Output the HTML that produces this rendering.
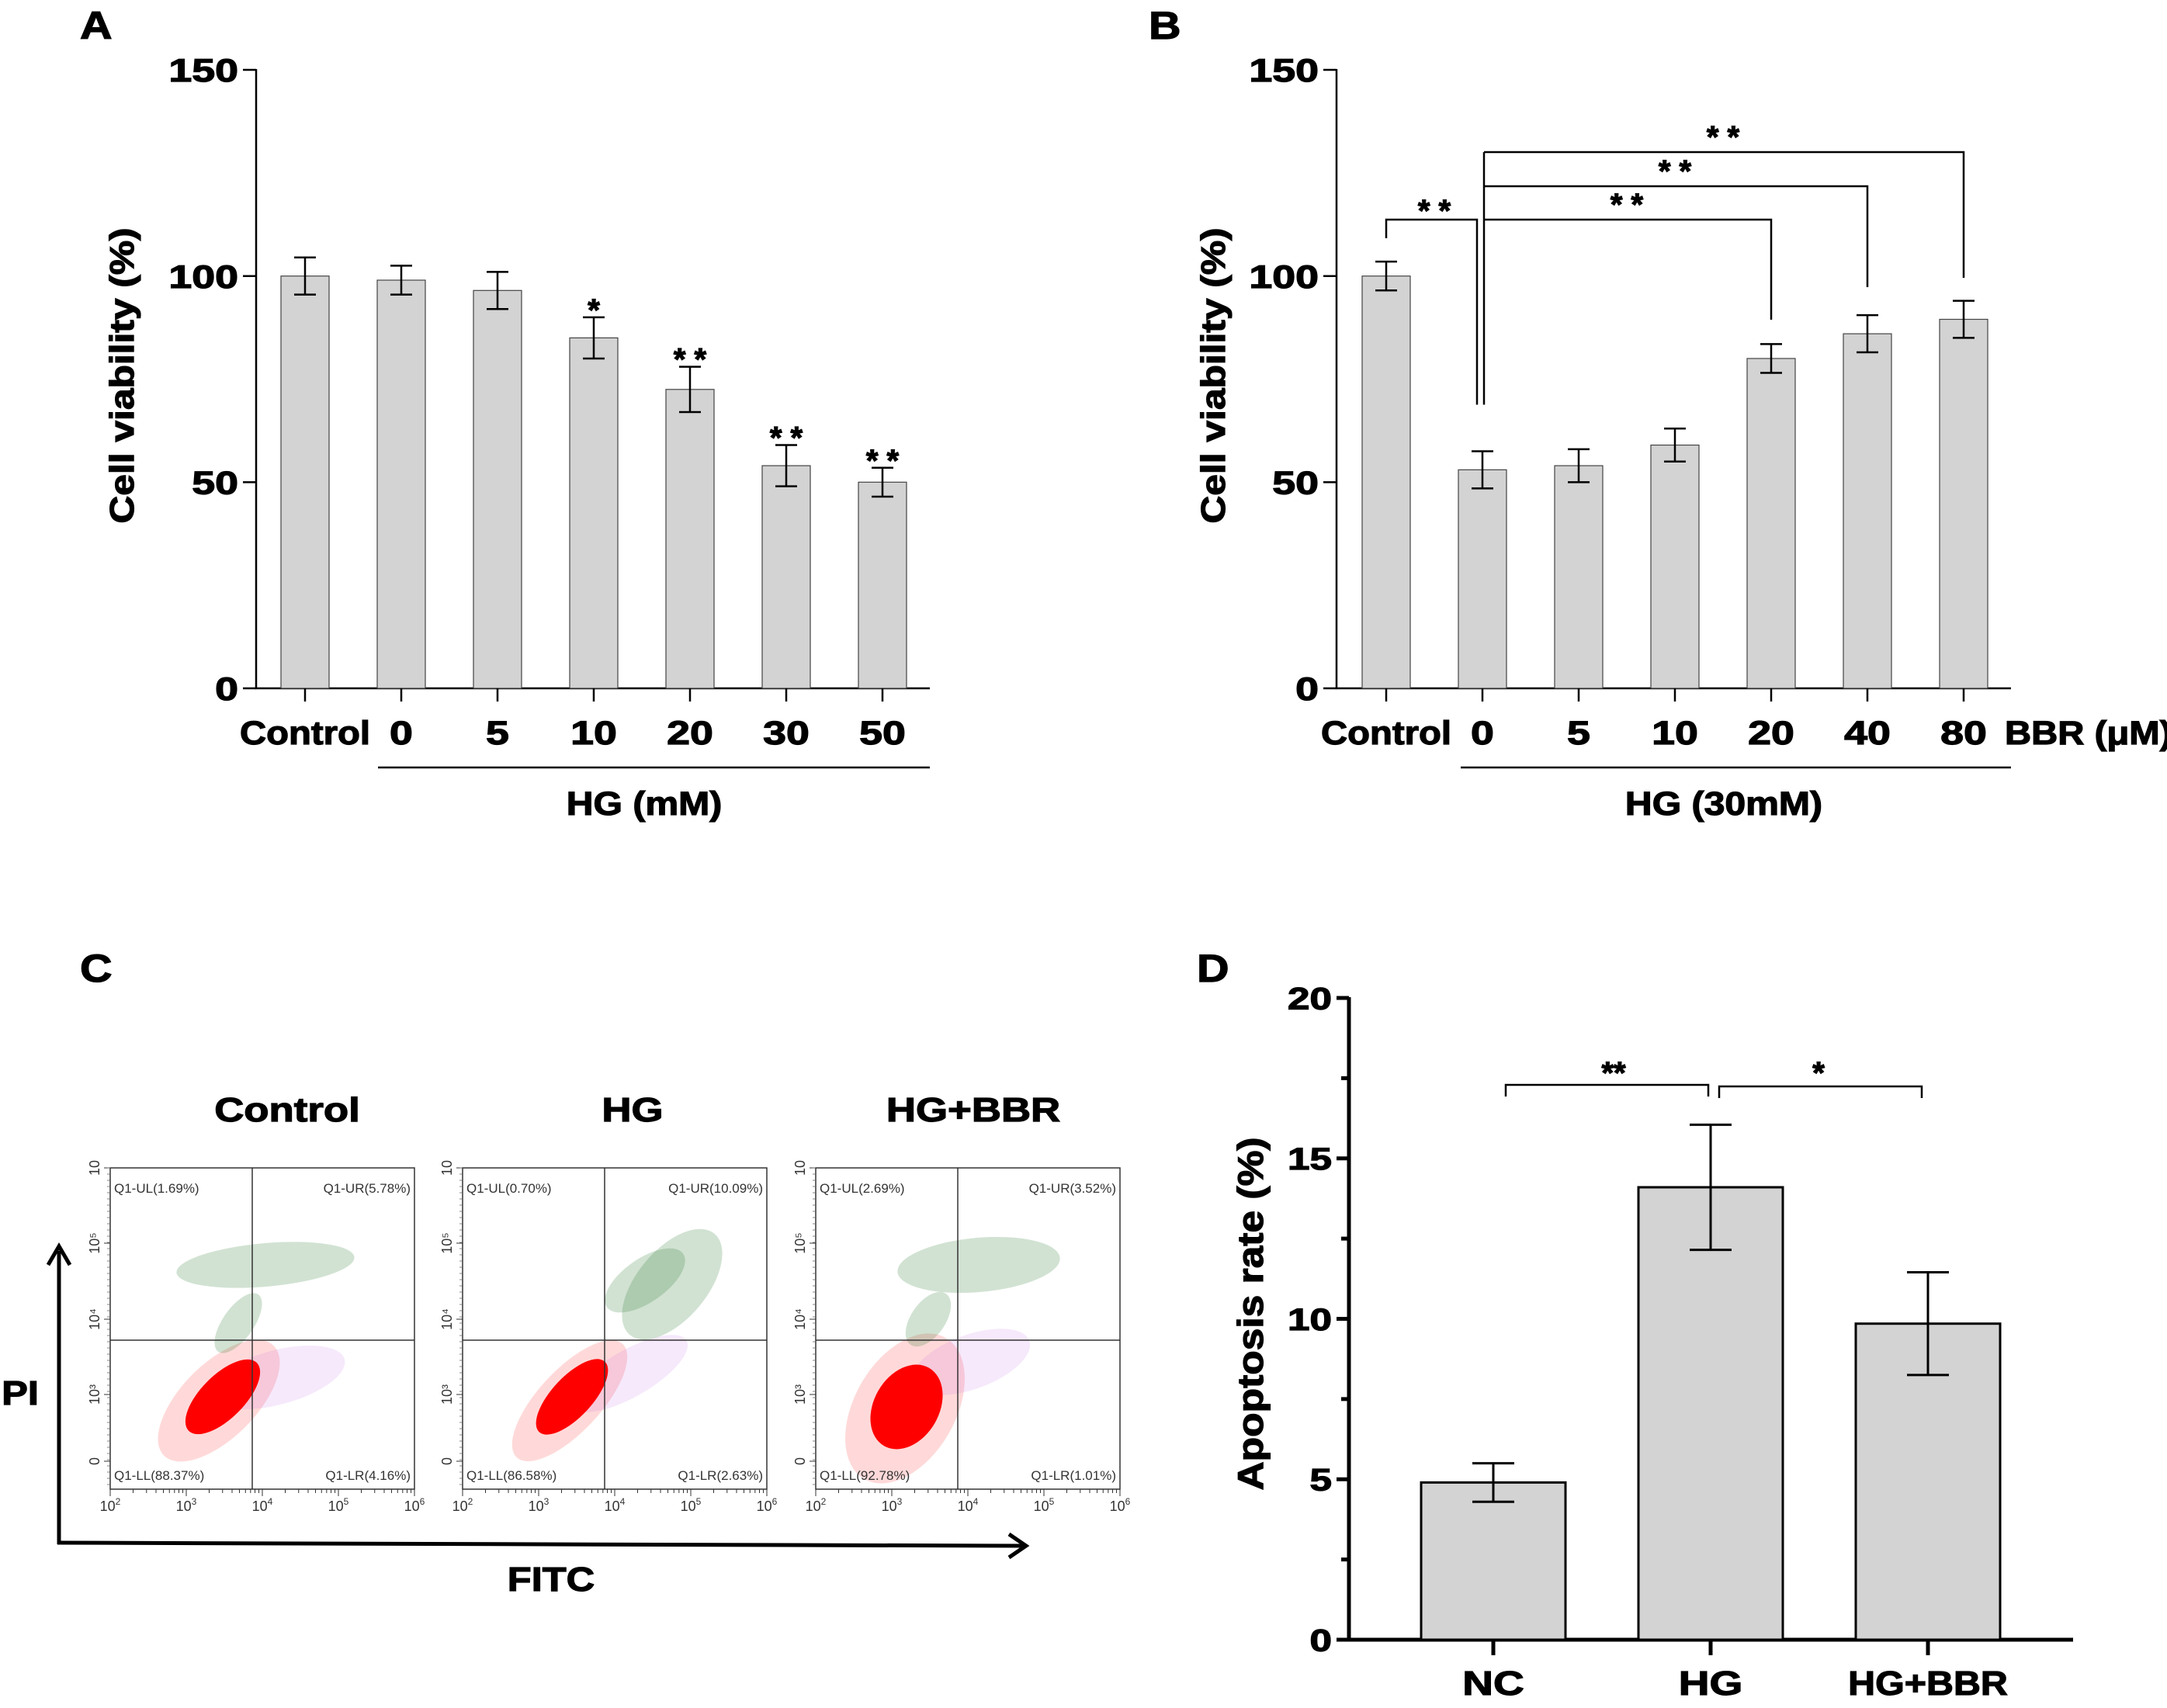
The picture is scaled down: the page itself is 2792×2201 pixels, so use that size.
<!DOCTYPE html>
<html><head><meta charset="utf-8"><style>
html,body{margin:0;padding:0;background:#fff}
svg{display:block}
text{font-family:"Liberation Sans",Arial,sans-serif}
</style></head><body>
<svg id="fig" width="2792" height="2201" viewBox="0 0 2792 2201" xmlns="http://www.w3.org/2000/svg"></svg>
<script>
// ---------- Panel A data ----------
const aCats=['Control','0','5','10','20','30','50'];
const aVals=[100,99,96.5,85,72.5,54,50];
const aErr=[4.5,3.5,4.5,5,5.5,5,3.5];
const aStars=['','','','*','* *','* *','* *'];
const aTicks=[0,50,100,150];
// ---------- Panel B data ----------
const bCats=['Control','0','5','10','20','40','80'];
const bVals=[100,53,54,59,80,86,89.5];
const bErr=[3.5,4.5,4,4,3.5,4.5,4.5];
const bTicks=[0,50,100,150];
// ---------- Panel D data ----------
const dCats=['NC','HG','HG+BBR'];
const dVals=[4.9,14.1,9.85];
const dErr=[0.6,1.95,1.6];
const dTicks=[0,5,10,15,20];
// ---------- Panel C data ----------
const cTitles=['Control','HG','HG+BBR'];
const cUL=['1.69','0.70','2.69'];
const cUR=['5.78','10.09','3.52'];
const cLL=['88.37','86.58','92.78'];
const cLR=['4.16','2.63','1.01'];

const NS='http://www.w3.org/2000/svg';
const svg=document.getElementById('fig');
function el(tag,attrs,parent){const e=document.createElementNS(NS,tag);for(const k in attrs)e.setAttribute(k,attrs[k]);(parent||svg).appendChild(e);return e;}
function line(x1,y1,x2,y2,w,c,name){const e=el('line',{x1,y1,x2,y2,stroke:c||'#000','stroke-width':w||2});

return e;}
function txt(x,y,s,size,anchor,sx,name,weight,fill,rot){
 const g=el('g',{transform:`translate(${x},${y})`+(rot?` rotate(${rot})`:'')+` scale(${sx||1},1)`});
 const a={x:0,y:0,'font-size':size,'text-anchor':anchor||'middle','font-weight':weight||'bold',fill:fill||'#000'};
 if(!weight){a.stroke='#000';a['stroke-width']=1.2;}
 const t=el('text',a,g);
 t.textContent=s;
 
 
 return t;}

// ---------- bar chart helper ----------
function barPanel(o){
 const y=v=>o.y0-v*o.k;
 line(o.ax,y(o.ymax)-1,o.ax,o.y0,o.axw,'#000',o.id+'-y-axis');
 line(o.ax-o.axw/2,o.y0,o.xend,o.y0,o.axw,'#000',o.id+'-x-axis');
 o.ticks.forEach(t=>{line(o.ax-o.tl,y(t),o.ax,y(t),o.axw,'#000',o.id+'-y-tick');
  txt(o.ax-o.tl-6,y(t)+o.tfs*0.36,String(t),o.tfs,'end',1.28,o.id+'-y-tick-label');});
 if(o.minor){for(let i=0;i<o.ticks.length-1;i++){const m=(o.ticks[i]+o.ticks[i+1])/2;line(o.ax-o.tl/2-2,y(m),o.ax,y(m),o.axw,'#000',o.id+'-y-minor-tick');}}
 o.vals.forEach((v,i)=>{
  const cx=o.c0+i*o.sp;
  const r=el('rect',{x:cx-o.bw/2,y:y(v),width:o.bw,height:o.y0-y(v),fill:'#d3d3d3',stroke:o.bs,'stroke-width':o.bsw});
  
  
  const e=o.err[i];
  line(cx,y(v+e),cx,y(v-e),o.ew,'#000',o.id+'-error-bar');
  line(cx-o.cw/2,y(v+e),cx+o.cw/2,y(v+e),o.ew,'#000',o.id+'-error-cap');
  line(cx-o.cw/2,y(v-e),cx+o.cw/2,y(v-e),o.ew,'#000',o.id+'-error-cap');
  line(cx,o.y0,cx,o.y0+o.xtl,o.axw,'#000',o.id+'-x-tick');
  txt(cx,o.lby,o.cats[i],o.lfs,'middle',o.cats[i].length>3?1.1:1.25,o.id+'-x-tick-label');
  if(o.stars&&o.stars[i])txt(cx,y(v+e)+4,o.stars[i],40,'middle',1,o.id+'-significance-star');
 });
}

// Panel A
txt(103,50,'A',50,'start',1.15,'panel-a-label');
barPanel({id:'panel-a',ax:330,y0:887,k:5.313,ymax:150,xend:1198,axw:2.5,tl:17,tfs:42,ticks:aTicks,vals:aVals,err:aErr,cats:aCats,
 c0:393,sp:124,bw:62,bs:'#444',bsw:1.2,ew:2.5,cw:28,xtl:17,lby:959,lfs:43,stars:aStars});
txt(156+16,484,'Cell viability (%)',44,'middle',1.13,'panel-a-y-axis-title',null,'#000',-90);
line(487,989,1198,989,2.5,'#000','panel-a-hg-group-line');
txt(830,1050,'HG (mM)',43,'middle',1.12,'panel-a-group-label');

// Panel B
txt(1480,50,'B',50,'start',1.15,'panel-b-label');
barPanel({id:'panel-b',ax:1722,y0:887,k:5.313,ymax:150,xend:2591,axw:2.5,tl:17,tfs:42,ticks:bTicks,vals:bVals,err:bErr,cats:bCats,
 c0:1786,sp:124,bw:62,bs:'#444',bsw:1.2,ew:2.5,cw:28,xtl:17,lby:959,lfs:43});
txt(1562+16,484,'Cell viability (%)',44,'middle',1.13,'panel-b-y-axis-title',null,'#000',-90);
txt(2583,959,'BBR (\u03bcM)',43,'start',1.1,'panel-b-bbr-unit-label');
line(1882,989,2591,989,2.5,'#000','panel-b-hg-group-line');
txt(2221,1050,'HG (30mM)',43,'middle',1.12,'panel-b-group-label');
(function(){
 const y=v=>887-v*5.313, cx=i=>1786+i*124, topE=i=>y(bVals[i]+bErr[i]);
 const yb=283;
 el('polyline',{points:`${cx(0)},${yb+24} ${cx(0)},${yb} ${cx(1)-7},${yb} ${cx(1)-7},${topE(1)-60}`,fill:'none',stroke:'#000','stroke-width':2.5});
 txt((cx(0)+cx(1))/2,yb+2,'* *',40,'middle',1,'panel-b-significance-star');
 line(cx(1)+2,topE(1)-60,cx(1)+2,196,2.5,'#000','panel-b-bracket-stem');
 const br=[[4,283,412],[5,240,370],[6,196,358]];
 br.forEach(b=>{const p=el('polyline',{points:`${cx(1)+2},${b[1]} ${cx(b[0])},${b[1]} ${cx(b[0])},${b[2]}`,fill:'none',stroke:'#000','stroke-width':2.5});
  
  
  txt((cx(1)+cx(b[0]))/2,b[1]-6,'* *',40,'middle',1,'panel-b-significance-star');});
})();

// Panel D
txt(1542,1265,'D',50,'start',1.15,'panel-d-label');
barPanel({id:'panel-d',ax:1738,y0:2113,k:41.35,ymax:20,xend:2671,axw:5,tl:16,tfs:40,ticks:dTicks,vals:dVals,err:dErr,cats:dCats,
 c0:1924,sp:280,bw:186,bs:'#000',bsw:3,ew:3,cw:54,xtl:20,lby:2184,lfs:44,minor:true});
txt(1609+18,1693,'Apoptosis rate (%)',46,'middle',1.12,'panel-d-y-axis-title',null,'#000',-90);
(function(){
 const p1=el('polyline',{points:`1940,1413 1940,1398 2201,1398 2201,1413`,fill:'none',stroke:'#000','stroke-width':2.5});
 
 const p2=el('polyline',{points:`2215,1415 2215,1400 2476,1400 2476,1415`,fill:'none',stroke:'#000','stroke-width':2.5});
 
 txt(2079,1396,'**',40,'middle',1,'panel-d-significance-star');
 txt(2343,1396,'*',40,'middle',1,'panel-d-significance-star');
})();

// Panel C
txt(103,1265,'C',50,'start',1.15,'panel-c-label');
const cLeft=[142,596,1051];
const cTitleX=[370,815,1254];
const cCloud=[
 {r:[145,295,-45,62,28],h:[140,300,-45,100,48],g:[[200,125,-5,115,28],[165,200,-55,45,20]],p:[[215,270,-15,90,35]]},
 {r:[141,295,-47,62,26],h:[138,300,-47,100,40],g:[[235,145,-35,60,28],[270,150,-50,85,45]],p:[[215,265,-30,85,30]]},
 {r:[117,308,-60,58,42],h:[115,310,-60,105,65],g:[[210,125,-5,105,35],[145,195,-55,40,22]],p:[[200,250,-20,80,35]]}
];
cLeft.forEach((L,i)=>{
 const T=1505,W=392,H=414,qx=L+183,qy=1727;
 txt(cTitleX[i],1445,cTitles[i],44,'middle',1.2,'flow-plot-title');
 const g=el('g',{});
 const cl=cCloud[i];
 const ell=(a,fill,op)=>el('ellipse',{cx:L+a[0],cy:T+a[1],rx:a[3],ry:a[4],transform:`rotate(${a[2]} ${L+a[0]} ${T+a[1]})`,fill,opacity:op},g);
 ell(cl.h,'#ff6666',0.25);
 cl.p.forEach(a=>ell(a,'#c060e0',0.14));
 cl.g.forEach(a=>ell(a,'#2e7d32',0.22));
 ell(cl.r,'#ff0000',1);
 el('rect',{x:L,y:T,width:W,height:H,fill:'none',stroke:'#333','stroke-width':1.5},g);
 line(qx,T,qx,T+H,1.5,'#333','quadrant-gate-vertical');
 line(L,qy,L+W,qy,1.5,'#333','quadrant-gate-horizontal');
 txt(L+5,T+32,'Q1-UL('+cUL[i]+'%)',17,'start',1,'quadrant-ul-percent','normal','#333');
 txt(L+W-5,T+32,'Q1-UR('+cUR[i]+'%)',17,'end',1,'quadrant-ur-percent','normal','#333');
 txt(L+5,T+H-12,'Q1-LL('+cLL[i]+'%)',17,'start',1,'quadrant-ll-percent','normal','#333');
 txt(L+W-5,T+H-12,'Q1-LR('+cLR[i]+'%)',17,'end',1,'quadrant-lr-percent','normal','#333');
 for(let d=0;d<4;d++){const x0=L+d*W/4;for(let m=1;m<10;m++){const x=x0+Math.log10(m)*W/4;line(x,T+H,x,T+H+(m==1?9:5),1,'#333','x-tick');}}
 line(L+W,T+H,L+W,T+H+9,1,'#333','x-tick');
 ['2','3','4','5','6'].forEach((e,k)=>{const t=txt(L+k*W/4,1947,'10',18,'middle',1,'x-tick-label','normal','#333');const s=el('tspan',{dy:-8,'font-size':12},t);s.textContent=e;});
 const yl=[[1505,'10'],[1602,'10\u2075'],[1700,'10\u2074'],[1797,'10\u00b3'],[1883,'0']];
 yl.forEach(a=>{txt(L-14,a[0],a[1],18,'middle',1,'y-tick-label','normal','#333',-90);line(L-8,a[0],L,a[0],1,'#333','y-tick');});
 for(let y=T;y<T+H;y+=8)line(L-4,y,L,y,0.8,'#666','y-minor-tick');
});
// PI / FITC arrows
line(76,1990,76,1612,5,'#000','pi-axis-arrow');
el('polyline',{points:'62,1630 76,1606 90,1630',fill:'none',stroke:'#000','stroke-width':5});
line(74,1988,1318,1992,5,'#000','fitc-axis-arrow');
el('polyline',{points:'1300,1977 1322,1992 1300,2007',fill:'none',stroke:'#000','stroke-width':5});
txt(26,1810,'PI',44,'middle',1.15,'pi-axis-title');
txt(710,2050,'FITC',44,'middle',1.15,'fitc-axis-title');
</script>
</body></html>
